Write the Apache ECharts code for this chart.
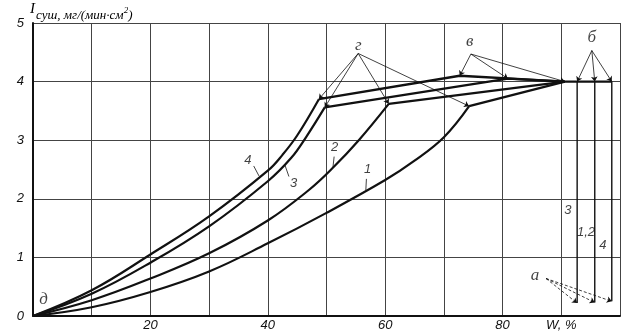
<!DOCTYPE html>
<html><head><meta charset="utf-8">
<script src="https://cdn.jsdelivr.net/npm/echarts@6/dist/echarts.min.js"></script>
<style>html,body{margin:0;background:#fff}#c{width:631px;height:333px}</style>
</head><body><div id="c"></div>
<script>
// Drying-rate curves I(W): falling-rate branches from the origin up to point г
const fall1 = [[0,0],[10,0.15],[20,0.41],[30,0.76],[40,1.24],[50,1.76],[60,2.32],[65,2.65],[70,3.05],[74.3,3.58]];
const fall2 = [[0,0],[10,0.27],[20,0.64],[30,1.07],[40,1.63],[47,2.15],[51,2.52],[55.5,3.0],[60.6,3.62]];
const fall3 = [[0,0],[10,0.38],[20,0.91],[30,1.53],[40,2.30],[44,2.70],[46.5,3.05],[49.7,3.56]];
const fall4 = [[0,0],[10,0.44],[20,1.05],[30,1.70],[40,2.48],[42.5,2.75],[45,3.08],[48.7,3.70]];

// Break points of the curves
const pointsG = [[74.3,3.58],[60.6,3.62],[49.7,3.56],[48.7,3.70]]; // г, curves 1..4
const pointsV = [[80.9,4.05],[72.7,4.10]];                          // в, curves 3 and 4
const junction = [90.6, 4.0];
const constRate = 4.0;

// Heating period: initial moisture (б above, а below) for curves 3 / 1,2 / 4
const startW = [92.7, 95.7, 98.6];
const startI = [0.22, 0.23, 0.25];
const startTags = ['3', '1,2', '4'];
const startTagPos = [[91.1,1.81],[94.2,1.42],[97.1,1.21]];

// Letter notes and the points their leaders start from
const noteText = ['г', 'в', 'б', 'а', 'д'];
const notePos = [[55.4,4.62],[74.4,4.68],[95.2,4.76],[85.5,0.69],[1.8,0.28]];
const noteFrom = [[55.4,4.48],[74.6,4.47],[95.2,4.53],[87.4,0.64]];

// Curve numbers with their short leaders
const curveTags = ['1', '2', '3', '4'];
const curveTagPos = [[57.0,2.50],[51.4,2.87],[44.4,2.27],[36.6,2.66]];
const curveTagLead = [
  [[56.8,2.34],[56.7,2.15]],
  [[51.3,2.72],[51.1,2.54]],
  [[43.6,2.38],[42.9,2.58]],
  [[37.6,2.56],[38.5,2.39]]
];

// x tick labels that are printed, and the axis names
const xTickText = {20:'20', 40:'40', 60:'60', 80:'80', 90:'W, %'};
const yName = ['I', 'суш', ', мг/(мин·см', '2', ')'];

const INK = '#111';
const sansIt = {fontFamily:'Liberation Sans', fontStyle:'italic', color:INK};
const serifIt = {fontFamily:'Liberation Serif', fontStyle:'italic', color:INK};

const chart = echarts.init(document.getElementById('c'), null, {renderer:'canvas'});

function curve(data, w) {
  return {type:'line', data, smooth:0.4, showSymbol:false, silent:true,
    lineStyle:{color:INK, width:w}, z:5};
}
function poly(data, w) {
  return {type:'line', data, smooth:false, showSymbol:false, silent:true,
    lineStyle:{color:INK, width:w}, z:5};
}
function leaders(pairs, arrow, dashed) {
  return {type:'lines', coordinateSystem:'cartesian2d', silent:true, z:6,
    symbol: arrow ? ['none','arrow'] : ['none','none'], symbolSize:5,
    lineStyle:{color:INK, width:0.8, opacity:1, type: dashed ? [3,2] : 'solid'},
    data: pairs.map(c => ({coords:c}))};
}
function tags(pos, text, font, size) {
  return {type:'scatter', symbolSize:0, silent:true, z:7,
    data: pos.map((p,i) => ({value:p, name:text[i]})),
    label:{show:true, position:'inside', formatter:'{b}', fontSize:size, ...font}};
}

const series = [
  curve(fall1, 2.2), curve(fall2, 2.2), curve(fall3, 2.2), curve(fall4, 2.2),
  poly([pointsG[0], junction], 2.4),
  poly([pointsG[1], junction], 2.4),
  poly([pointsG[2], pointsV[0], junction], 2.4),
  poly([pointsG[3], pointsV[1], junction], 2.4),
  poly([junction, [startW[2], constRate]], 2.2)
];
startW.forEach((w,i) => series.push(poly([[w, constRate],[w, startI[i]]], 1.4)));

series.push(leaders(pointsG.map(p => [noteFrom[0], p]), true, false));
series.push(leaders([pointsV[1], pointsV[0], junction].map(p => [noteFrom[1], p]), true, false));
series.push(leaders(startW.map(w => [noteFrom[2], [w, constRate]]), true, false));
series.push(leaders(startW.map((w,i) => [noteFrom[3], [w, startI[i]]]), true, true));
series.push(leaders(curveTagLead, false, false));

series.push(tags(notePos, noteText, serifIt, 17));
series.push(tags(curveTagPos, curveTags, sansIt, 13));
series.push(tags(startTagPos, startTags, sansIt, 13));

chart.setOption({
  animation:false,
  backgroundColor:'#fff',
  grid:{left:33, right:11, top:23, bottom:17},
  xAxis:{type:'value', min:0, max:100, interval:10,
    axisLine:{lineStyle:{color:INK, width:2}},
    axisTick:{show:false},
    splitLine:{show:true, lineStyle:{color:'#444', width:1}},
    axisLabel:{margin:3, fontSize:13, ...sansIt, formatter:v => xTickText[v] || ''}},
  yAxis:{type:'value', min:0, max:5, interval:1,
    axisLine:{show:true, lineStyle:{color:INK, width:2}},
    axisTick:{show:false},
    splitLine:{show:true, lineStyle:{color:'#444', width:1}},
    axisLabel:{margin:9, fontSize:13, ...sansIt}},
  graphic:[{type:'text', left:30, top:2, silent:true,
    style:{
      text:'{i|' + yName[0] + '}{s|' + yName[1] + '}{t|' + yName[2] + '}{p|' + yName[3] + '}{t|' + yName[4] + '}',
      rich:{
        i:{fontSize:15, ...serifIt, lineHeight:20, verticalAlign:'top', padding:[0,1,0,0]},
        s:{fontSize:13, ...serifIt, lineHeight:20, verticalAlign:'bottom'},
        t:{fontSize:13, ...serifIt, lineHeight:20, verticalAlign:'bottom'},
        p:{fontSize:9, ...serifIt, lineHeight:20, verticalAlign:'top', padding:[4,0,0,0]}
      }}}],
  series
});
</script></body></html>
